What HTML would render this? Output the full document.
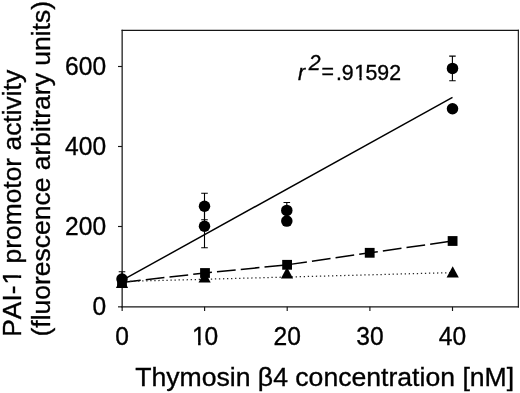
<!DOCTYPE html>
<html>
<head>
<meta charset="utf-8">
<title>PAI-1 promotor activity vs Thymosin β4 concentration</title>
<style>
html,body{margin:0;padding:0;background:#fff;}
body{width:520px;height:393px;overflow:hidden;}
svg{display:block;}
text{font-family:"Liberation Sans",Arial,Helvetica,sans-serif;fill:#000;stroke:#000;stroke-width:0.35px;font-kerning:none;font-variant-ligatures:none;}
</style>
</head>
<body>
<svg width="520" height="393" viewBox="0 0 520 393">
<rect x="0" y="0" width="520" height="393" fill="#fff"/>
<!-- plot frame -->
<g fill="none" stroke="#161616" stroke-linecap="square"><line x1="122.15" y1="30.4" x2="122.15" y2="306.85" stroke-width="1.25"/><line x1="122.15" y1="306.85" x2="518.35" y2="306.85" stroke-width="1.3"/><line x1="122.15" y1="30.4" x2="518.35" y2="30.4" stroke-width="1.1"/><line x1="518.35" y1="30.4" x2="518.35" y2="306.85" stroke-width="1.15"/></g>
<!-- y ticks -->
<g stroke="#161616" stroke-width="1.15">
<line x1="118" y1="66.5" x2="122" y2="66.5"/>
<line x1="118" y1="146.5" x2="122" y2="146.5"/>
<line x1="118" y1="226.5" x2="122" y2="226.5"/>
<line x1="118" y1="306.85" x2="122" y2="306.85"/>
<line x1="122.15" y1="306.85" x2="122.15" y2="311"/>
<line x1="204.6" y1="306.85" x2="204.6" y2="311"/>
<line x1="287.2" y1="306.85" x2="287.2" y2="311"/>
<line x1="369.9" y1="306.85" x2="369.9" y2="311"/>
<line x1="452.5" y1="306.85" x2="452.5" y2="311"/>
</g>
<!-- y tick labels -->
<g font-size="25.3" text-anchor="end" transform="scale(0.972 1)">
<text x="109.156" y="75.1">600</text>
<text x="109.156" y="155.1">400</text>
<text x="109.156" y="235.1">200</text>
<text x="109.156" y="315.5">0</text>
</g>
<!-- x tick labels -->
<g font-size="25.3" text-anchor="middle" transform="scale(0.972 1)">
<text x="125.514" y="345.3">0</text>
<text x="197.428 210.288" y="345.3" text-anchor="start">10</text>
<text x="295.473" y="345.3">20</text>
<text x="380.556" y="345.3">30</text>
<text x="465.535" y="345.3">40</text>
</g>
<!-- axis titles -->
<text x="135.2" y="385.7" font-size="26.6">Thymosin β4 concentration [nM]</text>
<text transform="translate(20.8,336.8) rotate(-90)" font-size="26.4">PAI-<tspan dx="0.9">1</tspan><tspan dx="-0.9"> promotor activity</tspan></text>
<text transform="translate(50.3,336.45) rotate(-90)" font-size="26.48">(fluorescence arbitrary units)</text>
<!-- regression lines -->
<line x1="122" y1="280.4" x2="452.5" y2="97.4" stroke="#000" stroke-width="1.45"/>
<polyline points="122,282.4 204.9,273.05 287.1,264.8 369.7,252.8 452.6,241" fill="none" stroke="#000" stroke-width="1.5" stroke-dasharray="18.8 5.09" stroke-linejoin="round"/>
<line x1="122" y1="281.5" x2="452.6" y2="272.6" stroke="#262626" stroke-width="1.25" stroke-dasharray="1.3 2.74"/>
<!-- error bars -->
<g stroke="#000" stroke-width="1.1" fill="none">
<path d="M122 271.7V288M118.7 271.7H125.3"/>
<path d="M204.5 193.3V219.8M201.2 193.3H207.8M201.2 219.8H207.8"/>
<path d="M204.5 204.7V247.7M201.2 247.7H207.8"/>
<path d="M286.8 202.5V218M283.5 202.5H290.1"/>
<path d="M452.4 56.1V80.8M449.2 56.1H455.7M449.2 80.8H455.7"/>
</g>
<!-- circles -->
<g fill="#000">
<circle cx="122" cy="279" r="5.75"/>
<circle cx="204.5" cy="206.3" r="5.75"/>
<circle cx="204.5" cy="226.2" r="5.75"/>
<circle cx="286.8" cy="210.4" r="5.75"/>
<circle cx="286.8" cy="221.1" r="5.75"/>
<circle cx="452.5" cy="68.4" r="5.75"/>
<circle cx="452.5" cy="108.7" r="5.75"/>
</g>
<!-- squares -->
<g fill="#000">
<rect x="117.10" y="277.50" width="9.8" height="9.8"/>
<rect x="200.10" y="268.10" width="9.8" height="9.8"/>
<rect x="282.20" y="259.90" width="9.8" height="9.8"/>
<rect x="364.80" y="247.90" width="9.8" height="9.8"/>
<rect x="447.70" y="236.10" width="9.8" height="9.8"/>
</g>
<!-- triangles -->
<g fill="#000">
<path d="M122.00 276.70L128.10 288.00H115.90Z"/>
<path d="M204.60 271.30L210.70 282.60H198.50Z"/>
<path d="M287.00 267.10L293.10 278.40H280.90Z"/>
<path d="M452.70 266.30L458.80 277.60H446.60Z"/>
</g>
<!-- annotation -->
<g font-size="21.3"><text x="297.9" y="79.6" font-style="italic">r</text><text x="308.8" y="70" font-style="italic">2</text><text x="321.5" y="79.4">=</text><text x="335.9" y="79.6">.9<tspan dx="0.7">1</tspan><tspan dx="-0.7">592</tspan></text></g>
<!-- trim serif foot of digit one to match reference glyph shape -->
<g fill="#fff">
<rect x="192.97" y="342.11" width="5.14" height="4.59"/><rect x="200.63" y="342.11" width="4.94" height="4.59"/>
<rect x="354.84" y="77.01" width="4.56" height="4.29"/><rect x="361.63" y="77.01" width="4.39" height="4.29"/>
<g transform="translate(20.8,336.8) rotate(-90)"><rect x="53.34" y="-2.97" width="5.45" height="4.67"/><rect x="61.48" y="-2.97" width="5.25" height="4.67"/></g>
</g>
</svg>
</body>
</html>
